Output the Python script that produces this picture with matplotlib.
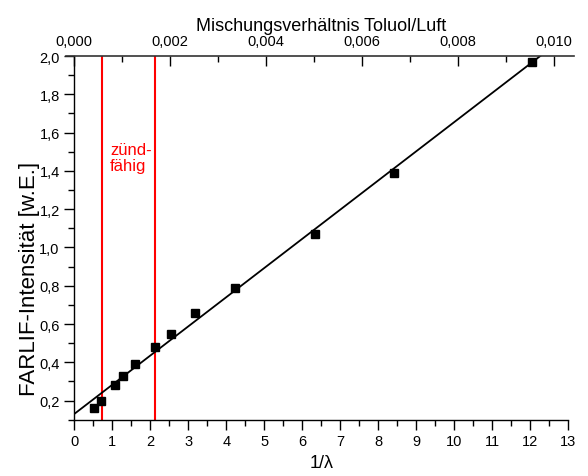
import numpy as np
import matplotlib
matplotlib.use("Agg")
import matplotlib.pyplot as plt
from matplotlib.ticker import MultipleLocator, FixedLocator, FuncFormatter

plt.rcParams["font.family"] = ["Liberation Sans", "DejaVu Sans"]

# measured FARLIF intensity versus inverse air ratio
inv_lambda = [0.53, 0.69, 1.06, 1.27, 1.60, 2.12, 2.54, 3.17, 4.22, 6.34, 8.41, 12.06]
intensity = [0.16, 0.20, 0.28, 0.33, 0.39, 0.48, 0.55, 0.66, 0.79, 1.07, 1.39, 1.97]

# ignition limits (lean / rich) in 1/lambda
ignition_limits = [0.72, 2.13]

# conversion 1/lambda -> toluene/air mixing ratio
mix_per_inv_lambda = 0.010 / 12.63
mix_major = [0.000, 0.002, 0.004, 0.006, 0.008, 0.010]
mix_minor = [0.001, 0.003, 0.005, 0.007, 0.009]

fig = plt.figure(figsize=(5.88, 4.77), dpi=100)
ax = fig.add_axes([0.1264, 0.118, 0.9660 - 0.1264, 0.8805 - 0.118])

# linear fit
slope, intercept = np.polyfit(inv_lambda, intensity, 1)
xf = np.array([0.0, 13.0])
ax.plot(xf, intercept + slope * xf, color="black", lw=1.3, zorder=3)

ax.plot(inv_lambda, intensity, ls="none", marker="s", ms=5.5,
        color="black", zorder=4)

for xl in ignition_limits:
    ax.axvline(xl, color="#ff0000", lw=1.5, zorder=2)

ax.text(0.94, 1.489, "zünd-", color="#ff0000", fontsize=12, va="baseline")
ax.text(0.94, 1.405, "fähig", color="#ff0000", fontsize=12, va="baseline")

comma = lambda fmt: FuncFormatter(lambda v, p: (fmt % v).replace(".", ","))

ax.xaxis.set_major_locator(MultipleLocator(1))
ax.xaxis.set_minor_locator(MultipleLocator(0.5))
ax.yaxis.set_major_locator(MultipleLocator(0.2))
ax.yaxis.set_minor_locator(MultipleLocator(0.1))
ax.yaxis.set_major_formatter(comma("%.1f"))
ax.set_xlim(0, 13)
ax.set_ylim(0.1, 2.0)

ax.tick_params(which="both", direction="out", width=1, labelsize=10.5, color="black")
ax.tick_params(which="major", length=7)
ax.tick_params(which="minor", length=4)

for side in ("right", "top"):
    ax.spines[side].set_visible(False)
for side in ("left", "bottom"):
    ax.spines[side].set_linewidth(1.0)

ax.set_xlabel("1/λ", fontsize=13, labelpad=4)
ax.set_ylabel("FARLIF-Intensität [w.E.]", fontsize=16)
ax.yaxis.set_label_coords(-0.07, 0.39)

# upper axis: mixing ratio
top = ax.secondary_xaxis("top", functions=(lambda x: x * mix_per_inv_lambda,
                                           lambda m: m / mix_per_inv_lambda))
top.xaxis.set_major_locator(FixedLocator(mix_major))
top.xaxis.set_minor_locator(FixedLocator(mix_minor))
top.xaxis.set_major_formatter(comma("%.3f"))
top.tick_params(which="both", direction="in", width=1, labelsize=10.5, pad=6)
top.tick_params(which="major", length=7)
top.tick_params(which="minor", length=4)
top.spines["top"].set_visible(False)
top.set_xlabel("Mischungsverhältnis Toluol/Luft", fontsize=13, labelpad=3)

# top frame line, slightly wider than the plot area
ax.plot([-0.016, 1.012], [1, 1], transform=ax.transAxes, color="#333333",
        lw=1.2, clip_on=False, zorder=5)

fig.savefig("out.png", dpi=100)
